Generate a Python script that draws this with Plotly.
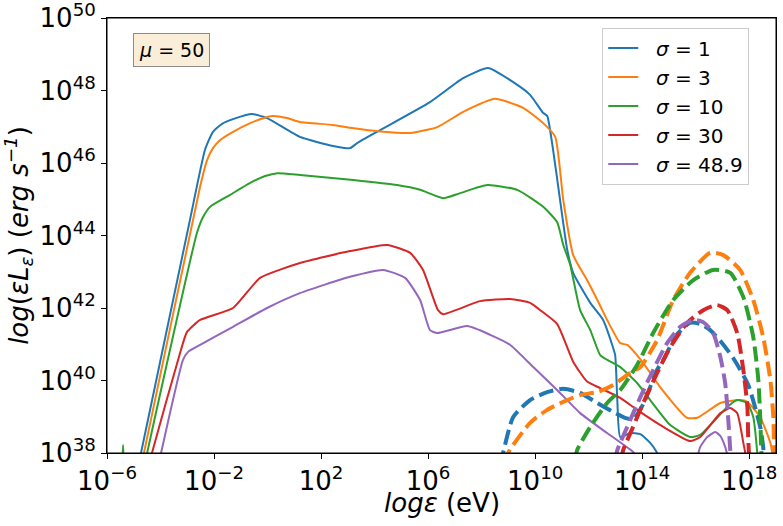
import plotly.graph_objects as go
import numpy as np

# ---- data (log10 of energy in eV, log10 of eps*L_eps in erg/s) ----
labels = ["σ = 1", "σ = 3", "σ = 10", "σ = 30", "σ = 48.9"]
colors = ["#1f77b4", "#ff7f0e", "#2ca02c", "#d62728", "#9467bd"]

# solid curves
s1_lx = [-4.90, -4.73, -2.90, -2.34, -2.04, -1.70, -1.29, -0.58, -0.02, 1.21, 2.45, 3.08, 3.35, 4.21, 6.07, 7.31, 8.24, 9.18, 9.81, 10.30, 10.45, 10.67, 10.93, 11.20, 11.42, 12.06, 12.54, 12.88, 12.99, 13.07, 13.18, 13.55, 13.93, 14.30, 14.56, 14.75]
s1_ly = [37.4, 38.0, 44.43, 46.36, 46.86, 47.08, 47.21, 47.35, 47.24, 46.72, 46.47, 46.41, 46.55, 46.91, 47.68, 48.34, 48.62, 48.23, 47.88, 47.38, 47.30, 46.36, 44.98, 43.60, 42.97, 42.14, 41.67, 40.98, 40.70, 39.46, 38.44, 38.55, 38.52, 38.28, 38.0, 37.67]

s3_lx = [-4.80, -4.62, -2.52, -2.26, -2.04, -1.78, -1.29, -0.65, -0.02, 0.21, 0.73, 1.21, 2.45, 3.08, 4.32, 5.33, 6.34, 7.31, 8.50, 9.55, 10.30, 10.75, 11.05, 11.42, 11.94, 12.43, 12.69, 13.18, 13.44, 14.04, 14.67, 15.68, 16.06, 16.92, 17.66, 17.93, 18.41, 18.79, 18.86, 18.93]
s3_ly = [37.4, 38.0, 45.35, 46.08, 46.41, 46.63, 46.86, 47.10, 47.27, 47.30, 47.24, 47.13, 47.05, 46.97, 46.86, 46.83, 46.99, 47.41, 47.77, 47.52, 47.10, 46.72, 44.98, 43.46, 42.77, 42.06, 41.67, 41.03, 40.98, 40.48, 39.82, 38.97, 38.97, 39.38, 39.46, 39.41, 38.99, 38.28, 38.0, 37.67]

s10_lx = [-5.50, -5.40, -5.30, -4.70, -4.50, -2.64, -2.41, -2.15, -1.40, -0.65, -0.09, 0.36, 1.21, 3.20, 4.84, 5.70, 6.56, 7.20, 8.21, 9.33, 10.30, 10.82, 11.05, 11.31, 11.68, 12.06, 12.43, 12.69, 13.18, 13.81, 14.30, 15.05, 15.79, 16.17, 17.18, 17.55, 17.93, 18.15, 18.30, 18.34]
s10_ly = [37.0, 38.22, 37.0, 37.3, 38.0, 44.07, 44.51, 44.79, 45.12, 45.45, 45.64, 45.72, 45.67, 45.53, 45.39, 45.26, 45.03, 45.17, 45.39, 45.26, 44.79, 44.37, 43.74, 43.19, 41.94, 41.39, 40.70, 40.57, 40.37, 39.93, 39.46, 38.77, 38.44, 38.50, 39.27, 39.46, 39.38, 38.99, 38.0, 37.5]

s30_lx = [-4.50, -4.32, -3.27, -3.01, -2.52, -1.29, -0.28, 1.21, 3.08, 4.47, 5.33, 5.81, 6.37, 6.56, 7.94, 9.07, 9.81, 10.19, 10.82, 11.42, 11.94, 12.43, 13.18, 13.81, 14.79, 15.79, 16.17, 16.92, 17.29, 17.55, 17.78, 17.85, 17.89]
s30_ly = [37.4, 38.0, 40.76, 41.34, 41.67, 42.00, 42.83, 43.24, 43.57, 43.74, 43.52, 43.05, 41.94, 41.83, 42.19, 42.25, 42.14, 41.94, 41.56, 40.52, 39.97, 39.79, 39.52, 39.19, 38.72, 38.33, 38.44, 39.10, 39.24, 39.10, 38.28, 38.0, 37.5]

s49_lx = [-4.15, -3.98, -3.16, -2.97, -2.52, -1.29, -0.02, 1.21, 3.08, 4.32, 5.14, 5.70, 6.07, 6.34, 7.46, 8.32, 9.07, 9.93, 10.82, 11.68, 12.69, 13.66, 13.93, 15.79, 16.02, 16.17, 16.43, 16.73, 16.92, 17.10, 17.21]
s49_ly = [37.4, 38.0, 40.57, 40.79, 40.98, 41.48, 42.00, 42.41, 42.86, 43.05, 42.83, 42.22, 41.39, 41.31, 41.50, 41.26, 40.98, 40.37, 39.74, 39.10, 38.55, 38.03, 37.8, 37.5, 37.8, 38.17, 38.44, 38.58, 38.47, 38.17, 37.86]

# dashed curves
d1_lx = [8.69, 8.80, 9.18, 9.81, 10.45, 11.05, 11.68, 12.32, 12.92, 13.36, 13.66, 14.04, 14.56, 14.79, 15.05, 15.31, 15.79, 16.17, 16.54, 16.99, 17.40, 17.96, 18.41, 18.52, 18.58]
d1_ly = [37.67, 38.0, 38.99, 39.46, 39.68, 39.77, 39.66, 39.38, 39.13, 38.97, 38.93, 39.35, 40.30, 40.57, 40.95, 41.28, 41.59, 41.56, 41.39, 41.03, 40.62, 39.88, 38.72, 38.17, 37.7]

d3_lx = [8.90, 8.99, 9.81, 10.45, 11.05, 11.68, 12.32, 12.92, 13.55, 13.93, 14.56, 15.16, 15.79, 16.54, 17.03, 17.66, 18.15, 18.52, 18.79, 18.90, 18.93, 18.97]
d3_ly = [37.7, 38.0, 38.83, 39.19, 39.41, 39.60, 39.68, 39.88, 40.21, 40.37, 41.12, 42.22, 42.97, 43.52, 43.46, 43.05, 42.22, 41.20, 40.01, 38.99, 38.08, 37.5]

d10_lx = [11.50, 11.57, 12.06, 12.69, 13.18, 13.81, 14.41, 15.16, 15.91, 16.65, 17.29, 17.78, 18.15, 18.34, 18.41, 18.45, 18.49]
d10_ly = [37.8, 38.08, 38.72, 39.38, 39.74, 40.43, 41.31, 42.22, 42.77, 43.05, 42.97, 42.30, 41.20, 40.01, 38.99, 38.08, 37.5]

d30_lx = [13.21, 13.29, 13.66, 14.04, 14.56, 15.05, 15.68, 16.28, 16.80, 17.18, 17.55, 17.78, 17.93, 17.96, 18.00]
d30_ly = [37.8, 38.08, 38.72, 39.38, 40.21, 40.92, 41.59, 41.94, 42.08, 41.94, 41.31, 40.29, 39.27, 38.44, 37.8]

d49_lx = [12.99, 13.07, 13.44, 13.93, 14.41, 14.93, 15.42, 15.91, 16.28, 16.65, 16.92, 17.10, 17.21, 17.29, 17.32]
d49_ly = [37.8, 38.08, 38.72, 39.54, 40.29, 41.03, 41.48, 41.67, 41.61, 41.31, 40.65, 39.93, 38.99, 38.08, 37.5]

x_tick_exp = [-6, -2, 2, 6, 10, 14, 18]
y_tick_exp = [38, 40, 42, 44, 46, 48, 50]

solids = [(s1_lx, s1_ly), (s3_lx, s3_ly), (s10_lx, s10_ly), (s30_lx, s30_ly), (s49_lx, s49_ly)]
dashes = [(d1_lx, d1_ly), (d3_lx, d3_ly), (d10_lx, d10_ly), (d30_lx, d30_ly), (d49_lx, d49_ly)]

FONT = "DejaVu Sans"
NB = "\u00a0"

fig = go.Figure()
for (lx, ly), c, lab in zip(solids, colors, labels):
    fig.add_trace(go.Scatter(x=10.0 ** np.array(lx), y=10.0 ** np.array(ly), mode="lines",
                             line=dict(color=c, width=2, shape="spline", smoothing=0.5),
                             name=NB * 2 + "<i>" + lab.replace(" = ", "</i> = ")))
for (lx, ly), c in zip(dashes, colors):
    fig.add_trace(go.Scatter(x=10.0 ** np.array(lx), y=10.0 ** np.array(ly), mode="lines",
                             line=dict(color=c, width=4, dash="15px,6px", shape="spline", smoothing=0.6),
                             showlegend=False))

def sup(e):
    s = str(e).replace("-", "−")
    return "10<sup>" + s + "</sup>"

fig.update_xaxes(type="log", range=[-6.0001, 19], tickvals=[10.0 ** e for e in x_tick_exp],
                 ticktext=[sup(e) for e in x_tick_exp], ticks="outside", ticklen=5, tickwidth=1,
                 tickcolor="black", showline=True, linecolor="black", linewidth=1, mirror=True,
                 showgrid=False, zeroline=False, automargin=False, ticklabeloverflow="allow",
                 tickfont=dict(family=FONT, size=26, color="black"))
fig.update_yaxes(type="log", range=[37.9999, 50.0001], tickvals=[10.0 ** e for e in y_tick_exp],
                 ticktext=[sup(e) for e in y_tick_exp], ticks="outside", ticklen=5, tickwidth=1,
                 tickcolor="black", showline=True, linecolor="black", linewidth=1, mirror=True,
                 showgrid=False, zeroline=False, automargin=False, ticklabeloverflow="allow",
                 tickfont=dict(family=FONT, size=26, color="black"),
                 title=dict(text="<i>log</i>(<i>εL<sub>ε</sub></i>) (<i>erg s<sup>−1</sup></i>)",
                            font=dict(family=FONT, size=26, color="black"), standoff=8))

# x-axis title
fig.add_annotation(xref="paper", yref="paper", x=0.5, y=-0.115, xanchor="center", yanchor="middle",
                   text="<i>logε</i> (eV)", showarrow=False,
                   font=dict(family=FONT, size=26, color="black"))

# plot frame
fig.add_shape(type="rect", xref="paper", yref="paper", x0=0, x1=1, y0=0, y1=1,
              line=dict(color="black", width=1), layer="above")

fig.add_annotation(xref="paper", yref="paper", x=0.0957, y=0.926, xanchor="center", yanchor="middle",
                   text="<i>μ</i> = 50",
                   showarrow=False, font=dict(family=FONT, size=19, color="black"),
                   bgcolor="#faeed9", bordercolor="#8c8c8c", borderwidth=1, borderpad=5)

fig.update_layout(width=783, height=526, margin=dict(l=107, r=7, t=18, b=73),
                  template="none", paper_bgcolor="white", plot_bgcolor="white",
                  legend=dict(x=0.960, y=0.978, xanchor="right", yanchor="top",
                              font=dict(family=FONT, size=20, color="black"),
                              bordercolor="#cccccc", borderwidth=1, bgcolor="rgba(255,255,255,0.8)"))
fig.write_html("out.html", config={"displayModeBar": False},
               post_script="document.body.style.margin='0px';document.body.style.padding='0px';document.body.style.overflow='hidden';")
